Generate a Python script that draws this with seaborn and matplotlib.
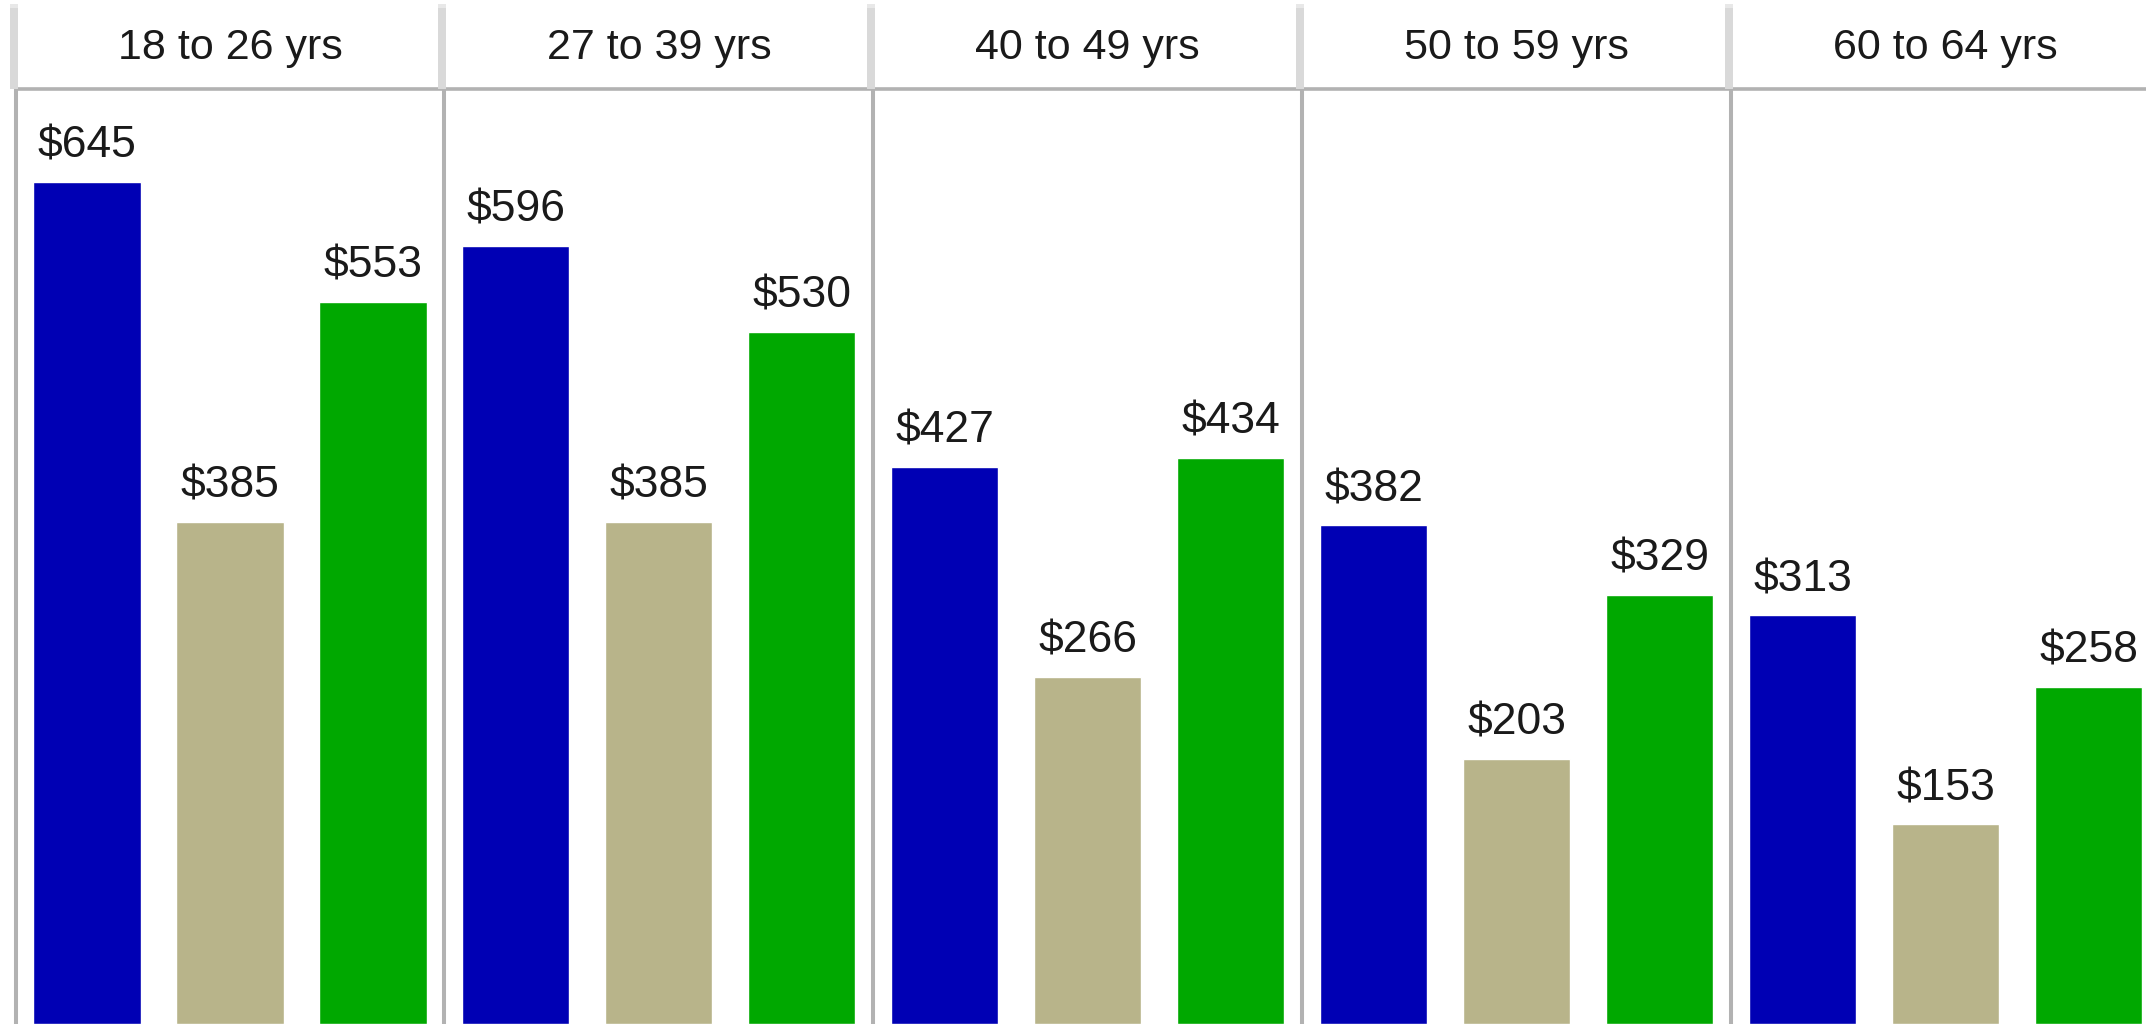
import matplotlib
matplotlib.use("Agg")
import matplotlib.pyplot as plt
from matplotlib.patches import Rectangle
import pandas as pd
import seaborn as sns

# data
age_groups = ["18 to 26 yrs", "27 to 39 yrs", "40 to 49 yrs", "50 to 59 yrs", "60 to 64 yrs"]
series = ["plan_a", "plan_b", "plan_c"]
plan_a = [645, 596, 427, 382, 313]
plan_b = [385, 385, 266, 203, 153]
plan_c = [553, 530, 434, 329, 258]

colors = {"plan_a": "#0000b4", "plan_b": "#b8b48a", "plan_c": "#00a800"}

rows = []
for i, g in enumerate(age_groups):
    for s, vals in zip(series, [plan_a, plan_b, plan_c]):
        rows.append({"group": g, "series": s, "value": vals[i]})
df = pd.DataFrame(rows)

sns.set_style("white")
plt.rcParams["font.family"] = ["Liberation Sans", "DejaVu Sans"]

W, H = 2146, 1024
fig = plt.figure(figsize=(W / 100, H / 100), dpi=100)
fig.patch.set_facecolor("white")

x0 = 15.5
pw = 428.9
head = 89
line_c = "#b2b2b2"

for i, g in enumerate(age_groups):
    ax = fig.add_axes([(x0 + i * pw) / W, 0, pw / W, (H - head) / H])
    sub = df[df["group"] == g]
    sns.barplot(data=sub, x="series", y="value", hue="series", order=series,
                hue_order=series, palette=colors, legend=False, width=0.75,
                saturation=1, ax=ax)
    ax.set_xlim(-0.5, 2.5)
    ax.set_ylim(0, 716.4)
    ax.set_xticks([])
    ax.set_yticks([])
    ax.set_xlabel("")
    ax.set_ylabel("")
    for c in ax.containers:
        ax.bar_label(c, labels=["$%d" % v.get_height() for v in c],
                     padding=11, fontsize=32, color="#1a1a1a")
    for side in ["right", "bottom"]:
        ax.spines[side].set_visible(False)
    ax.spines["left"].set_color(line_c)
    ax.spines["left"].set_linewidth(2.9)
    ax.spines["top"].set_color(line_c)
    ax.spines["top"].set_linewidth(2.6)
    ax.set_title(g, fontsize=31, color="#1a1a1a", pad=21.6)

    # header divider
    xc = x0 + i * pw
    fig.add_artist(Rectangle(((xc - 6) / W, (H - head) / H), 8 / W, 81 / H,
                             transform=fig.transFigure, color="#d9d9d9", lw=0))
    fig.add_artist(Rectangle(((xc - 6) / W, (H - 8) / H), 8 / W, 4 / H,
                             transform=fig.transFigure, color="#e8e8e8", lw=0))

fig.savefig("out.png", dpi=100, facecolor="white")
